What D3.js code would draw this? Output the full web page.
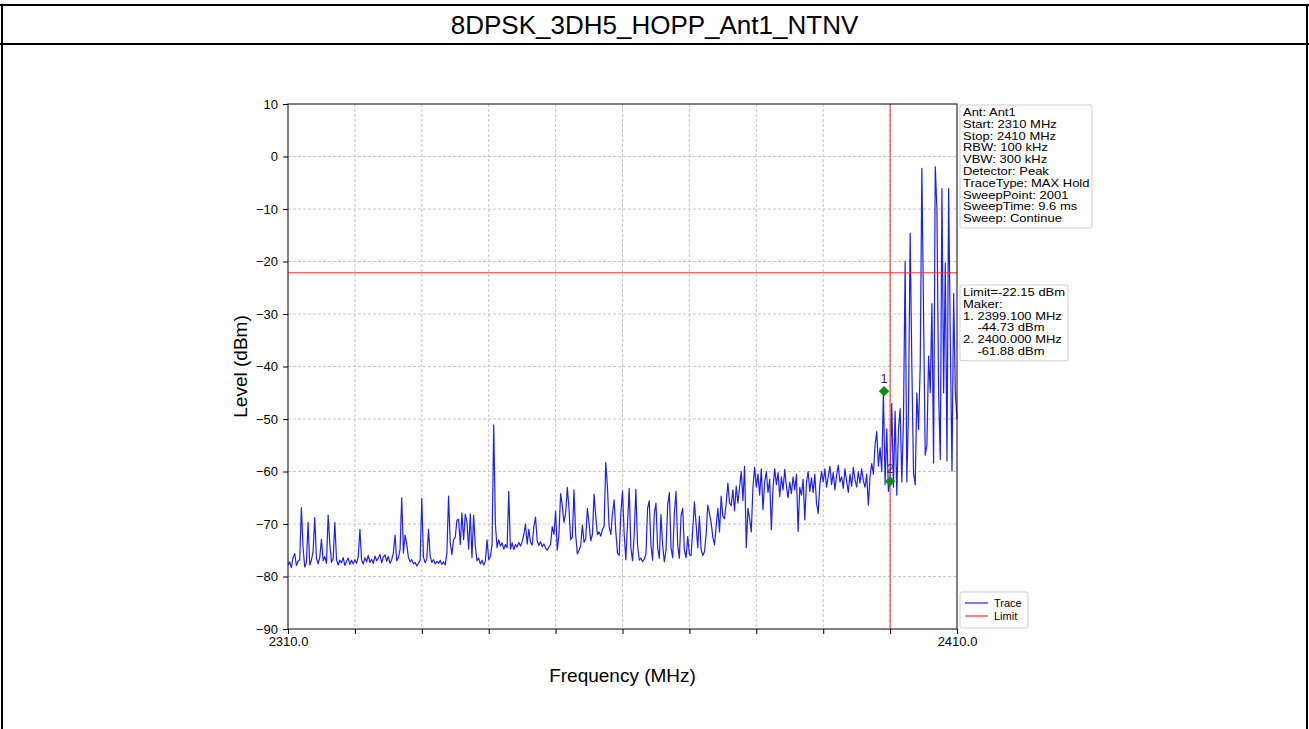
<!DOCTYPE html>
<html>
<head>
<meta charset="utf-8">
<script src="https://cdn.jsdelivr.net/npm/d3@7"></script>
<style>
  html, body { margin: 0; padding: 0; background: #ffffff; }
  svg { display: block; font-family: Arial, "Liberation Sans", sans-serif; }
</style>
</head>
<body>
<svg id="chart" width="1309" height="729"></svg>
<script>
// Sweep settings
const freqStart = 2310;
const freqStop = 2410;
const freqStep = 0.25;

// Max-hold trace levels (dBm), one per sweep step from 2310 to 2410 MHz
const traceLevels = [
  -77.8,-77.2,-78.3,-76.4,-75.6,-77.9,-77.1,-76.8,
  -66.9,-74.5,-78.2,-77.4,-69.7,-77.8,-76.9,-75.2,
  -68.8,-76.5,-77.6,-76.3,-72.9,-77.0,-76.2,-77.5,
  -68.3,-73.8,-77.3,-76.6,-69.7,-76.8,-77.8,-76.9,
  -77.4,-76.4,-77.9,-77.1,-76.5,-77.7,-76.9,-77.6,
  -76.8,-77.5,-76.2,-71.0,-76.9,-77.6,-76.4,-77.2,
  -76.0,-77.3,-76.7,-77.5,-76.1,-77.0,-76.5,-75.8,
  -77.4,-76.3,-75.9,-77.1,-76.2,-77.5,-76.8,-75.5,
  -72.1,-77.0,-76.4,-74.9,-65.0,-75.5,-72.1,-73.8,
  -76.4,-77.2,-76.8,-77.6,-77.3,-78.0,-77.5,-76.9,
  -65.1,-76.3,-77.4,-76.6,-71.0,-76.2,-77.3,-76.8,
  -77.6,-77.1,-77.5,-76.9,-77.7,-77.2,-77.8,-75.6,
  -64.7,-73.5,-75.8,-73.0,-72.5,-69.3,-69.1,-73.9,
  -67.9,-73.0,-68.1,-69.6,-74.8,-68.1,-76.4,-68.3,
  -74.2,-77.0,-76.5,-77.6,-76.9,-77.8,-77.1,-73.0,
  -76.8,-76.2,-74.0,-51.1,-70.0,-74.5,-73.0,-74.2,
  -73.6,-74.8,-73.9,-74.5,-63.8,-74.8,-73.6,-74.9,
  -73.9,-74.4,-73.5,-74.2,-73.4,-72.0,-70.0,-73.8,
  -71.0,-73.5,-74.0,-70.5,-68.7,-73.2,-74.1,-73.4,
  -74.3,-73.8,-74.6,-75.0,-74.4,-73.9,-70.5,-72.0,
  -67.6,-75.0,-72.0,-64.2,-66.5,-69.7,-68.0,-63.0,
  -67.0,-73.0,-72.5,-63.5,-72.0,-75.7,-75.0,-74.2,
  -70.2,-73.5,-72.8,-67.0,-70.0,-73.2,-72.0,-64.3,
  -68.5,-72.0,-71.5,-72.3,-71.0,-70.5,-58.3,-63.0,
  -70.5,-72.0,-68.0,-65.4,-71.5,-75.5,-76.0,-68.0,
  -63.7,-72.0,-76.8,-70.0,-63.2,-74.5,-77.0,-72.0,
  -63.4,-74.0,-76.9,-76.5,-77.2,-76.7,-75.8,-67.0,
  -65.6,-74.0,-76.9,-68.0,-66.0,-74.5,-76.5,-68.2,
  -74.0,-77.2,-75.0,-66.5,-64.0,-74.5,-76.4,-68.0,
  -63.8,-74.0,-76.5,-68.5,-67.0,-75.0,-76.4,-72.4,
  -75.8,-76.0,-71.0,-65.8,-70.0,-74.5,-68.5,-74.8,
  -76.0,-75.3,-72.0,-66.4,-68.0,-69.7,-72.5,-74.0,
  -70.5,-67.0,-71.5,-64.7,-68.5,-69.0,-66.0,-62.2,
  -66.0,-66.5,-63.5,-67.5,-62.8,-66.0,-63.0,-60.0,
  -65.5,-59.0,-74.5,-67.0,-69.0,-71.5,-63.0,-59.2,
  -63.0,-60.5,-64.5,-59.5,-67.3,-62.0,-60.0,-64.0,
  -61.5,-71.1,-63.0,-59.5,-62.5,-60.2,-64.8,-61.0,
  -63.5,-59.6,-62.8,-65.0,-62.0,-64.2,-61.0,-63.5,
  -60.5,-71.4,-63.0,-64.5,-61.5,-69.2,-62.0,-60.0,
  -63.8,-61.2,-64.0,-60.5,-66.0,-68.0,-62.5,-60.0,
  -62.0,-59.5,-63.0,-61.0,-59.0,-62.5,-60.2,-63.5,
  -60.8,-58.8,-62.0,-61.0,-63.2,-59.5,-61.8,-64.0,
  -60.5,-62.8,-59.2,-61.5,-63.0,-60.0,-62.2,-59.5,
  -61.8,-63.0,-60.5,-66.4,-61.0,-58.5,-60.5,-55.0,
  -52.4,-59.0,-55.5,-60.0,-44.73,-62.5,-51.9,-63.8,
  -61.88,-47.0,-63.0,-48.5,-64.5,-52.0,-48.0,-62.0,
  -50.0,-20.0,-62.0,-48.0,-14.6,-40.0,-60.3,-62.5,
  -45.0,-52.0,-40.0,-2.25,-30.0,-56.9,-55.0,-38.0,
  -45.0,-28.0,-58.4,-1.94,-10.0,-45.0,-57.7,-6.1,
  -45.0,-20.3,-58.0,-6.1,-35.0,-59.9,-26.1,-45.0,
  -50.0
];

// Limit lines
const limitLevel = -22.15;
const limitFreq = 2400;

// Markers
const markerNames = ["1", "2"];
const markerFreqs = [2399.1, 2400.0];
const markerLevels = [-44.73, -61.88];

// Axis ticks
const yTicks = [10, 0, -10, -20, -30, -40, -50, -60, -70, -80, -90];
const xTicks = [2310, 2320, 2330, 2340, 2350, 2360, 2370, 2380, 2390, 2400, 2410];
const xTickLabels = ["2310.0", "", "", "", "", "", "", "", "", "", "2410.0"];

// Text blocks
const chartTitle = "8DPSK_3DH5_HOPP_Ant1_NTNV";
const settingLines = [
  "Ant: Ant1", "Start: 2310 MHz", "Stop: 2410 MHz", "RBW: 100 kHz", "VBW: 300 kHz",
  "Detector: Peak", "TraceType: MAX Hold", "SweepPoint: 2001", "SweepTime: 9.6 ms", "Sweep: Continue"
];
const markerLines = [
  "Limit=-22.15 dBm", "Maker:", "1. 2399.100 MHz", "    -44.73 dBm", "2. 2400.000 MHz", "    -61.88 dBm"
];
const legendLabels = ["Trace", "Limit"];

const traceColor = "#1f1ff0";
const limitColor = "#ee3030";
const markerColor = "#138a13";

const svg = d3.select("#chart");

// Page frame with title cell
const frame = svg.append("g").attr("stroke", "#000").attr("stroke-width", 2).attr("fill", "none");
frame.append("line").attr("x1", 0).attr("x2", 1309).attr("y1", 5).attr("y2", 5);
frame.append("line").attr("x1", 0).attr("x2", 1309).attr("y1", 44).attr("y2", 44);
frame.append("line").attr("x1", 2).attr("x2", 2).attr("y1", 4).attr("y2", 729);
frame.append("line").attr("x1", 1307).attr("x2", 1307).attr("y1", 4).attr("y2", 729);

svg.append("text")
  .attr("x", 654.5).attr("y", 34)
  .attr("text-anchor", "middle")
  .attr("font-size", 26)
  .attr("fill", "#000")
  .text(chartTitle);

// Plot area
const plot = { left: 288, right: 957, top: 104, bottom: 629 };
const x = d3.scaleLinear().domain([freqStart, freqStop]).range([plot.left, plot.right]);
const y = d3.scaleLinear().domain([-90, 10]).range([plot.bottom, plot.top]);

// Grid
const grid = svg.append("g").attr("stroke", "#b8b8b8").attr("stroke-width", 0.8).attr("stroke-dasharray", "3,2");
grid.selectAll("line.gx").data(xTicks.slice(1, -1)).join("line")
  .attr("x1", d => x(d)).attr("x2", d => x(d)).attr("y1", plot.top).attr("y2", plot.bottom);
grid.selectAll("line.gy").data(yTicks.slice(1, -1)).join("line")
  .attr("y1", d => y(d)).attr("y2", d => y(d)).attr("x1", plot.left).attr("x2", plot.right);

// Trace
const tracePoints = traceLevels.map((v, i) => [freqStart + i * freqStep, v]);
const line = d3.line().x(d => x(d[0])).y(d => y(d[1]));
svg.append("path")
  .datum(tracePoints)
  .attr("d", line)
  .attr("fill", "none")
  .attr("stroke", traceColor)
  .attr("stroke-width", 1.2)
  .attr("stroke-linejoin", "round");

// Limit lines
svg.append("line")
  .attr("x1", plot.left).attr("x2", plot.right)
  .attr("y1", y(limitLevel)).attr("y2", y(limitLevel))
  .attr("stroke", limitColor).attr("stroke-width", 1);
svg.append("line")
  .attr("x1", x(limitFreq)).attr("x2", x(limitFreq))
  .attr("y1", plot.top).attr("y2", plot.bottom)
  .attr("stroke", limitColor).attr("stroke-width", 1);

// Markers
const markers = markerNames.map((n, i) => ({ name: n, f: markerFreqs[i], v: markerLevels[i] }));
const diamond = d3.symbol().type(d3.symbolDiamond2).size(70);
svg.selectAll("path.marker").data(markers).join("path")
  .attr("class", "marker")
  .attr("transform", d => `translate(${x(d.f)},${y(d.v)})`)
  .attr("d", diamond)
  .attr("fill", markerColor);
svg.selectAll("text.mlabel").data(markers).join("text")
  .attr("class", "mlabel")
  .attr("x", d => x(d.f))
  .attr("y", d => y(d.v) - 8)
  .attr("text-anchor", "middle")
  .attr("font-size", 13)
  .attr("fill", "#333")
  .text(d => d.name);

// Axes
const xAxis = d3.axisBottom(x).tickValues(xTicks).tickSize(5).tickPadding(3)
  .tickFormat((d, i) => xTickLabels[i]);
const gx = svg.append("g").attr("transform", `translate(0,${plot.bottom})`).call(xAxis);
const yAxis = d3.axisLeft(y).tickValues(yTicks).tickSize(5).tickPadding(5).tickFormat(d3.format("d"));
const gy = svg.append("g").attr("transform", `translate(${plot.left},0)`).call(yAxis);
[gx, gy].forEach(g => {
  g.select(".domain").remove();
  g.selectAll(".tick line").attr("stroke", "#000").attr("stroke-width", 1);
  g.selectAll(".tick text").attr("font-size", 13).attr("fill", "#000")
    .attr("font-family", "Arial, 'Liberation Sans', sans-serif");
});
gy.selectAll(".tick text").text(d => d < 0 ? "\u2212" + Math.abs(d) : d);

// Plot frame
svg.append("rect")
  .attr("x", plot.left).attr("y", plot.top)
  .attr("width", plot.right - plot.left).attr("height", plot.bottom - plot.top)
  .attr("fill", "none").attr("stroke", "#000").attr("stroke-width", 1);

// Axis titles
svg.append("text")
  .attr("x", x((freqStart + freqStop) / 2)).attr("y", 682)
  .attr("text-anchor", "middle").attr("font-size", 19).attr("fill", "#000")
  .text("Frequency (MHz)");
svg.append("text")
  .attr("transform", `translate(247,${(plot.top + plot.bottom) / 2}) rotate(-90)`)
  .attr("text-anchor", "middle").attr("font-size", 19).attr("fill", "#000")
  .text("Level (dBm)");

// Text boxes beside the plot; the lines are set in a small, widened face
function textBox(lines, left, top, width, lineHeight) {
  const g = svg.append("g");
  g.append("rect")
    .attr("x", left).attr("y", top)
    .attr("width", width).attr("height", lines.length * lineHeight + 5)
    .attr("rx", 2).attr("fill", "#fff").attr("stroke", "#cfcfcf").attr("stroke-width", 1);
  g.selectAll("text").data(lines).join("text")
    .attr("transform", (d, i) => `translate(${left + 3},${top + 11 + i * lineHeight}) scale(1.3,1)`)
    .attr("font-size", 10).attr("fill", "#000")
    .attr("xml:space", "preserve")
    .style("white-space", "pre")
    .text(d => d);
}
textBox(settingLines, 960, 105, 132, 11.8);
textBox(markerLines, 960, 285, 108, 11.8);

// Legend
const legend = svg.append("g");
legend.append("rect")
  .attr("x", 960).attr("y", 592).attr("width", 68).attr("height", 36)
  .attr("rx", 2).attr("fill", "#fff").attr("stroke", "#cfcfcf");
const legendColors = [traceColor, limitColor];
legendLabels.forEach((lab, i) => {
  const yy = 603 + i * 13;
  legend.append("line").attr("x1", 965).attr("x2", 988).attr("y1", yy).attr("y2", yy)
    .attr("stroke", legendColors[i]).attr("stroke-width", 1.2);
  legend.append("text").attr("x", 994).attr("y", yy + 4)
    .attr("font-size", 11).attr("fill", "#000").text(lab);
});
</script>
</body>
</html>
